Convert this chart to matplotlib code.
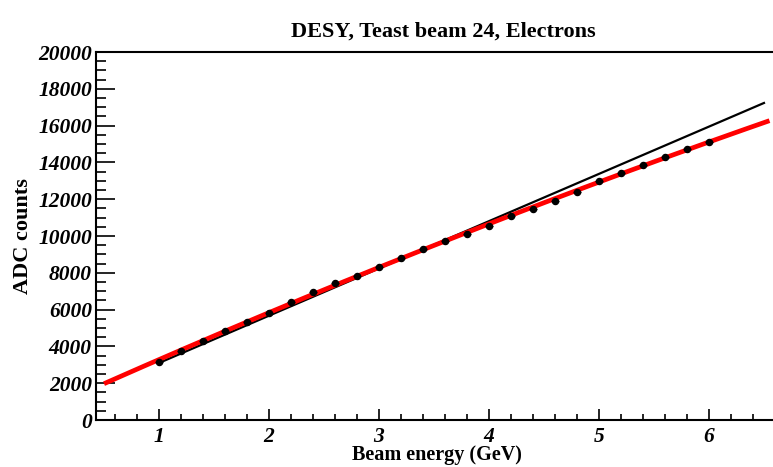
import numpy as np
import matplotlib
matplotlib.use("Agg")
import matplotlib.pyplot as plt
from matplotlib.ticker import MultipleLocator

# Data
energy = [1.0, 1.2, 1.4, 1.6, 1.8, 2.0, 2.2, 2.4, 2.6, 2.8, 3.0, 3.2, 3.4,
          3.6, 3.8, 4.0, 4.2, 4.4, 4.6, 4.8, 5.0, 5.2, 5.4, 5.6, 5.8, 6.0]
adc = [3170, 3770, 4310, 4850, 5340, 5830, 6430, 6940, 7430, 7830, 8300,
       8790, 9280, 9750, 10110, 10540, 11090, 11490, 11920, 12410, 12980,
       13440, 13880, 14280, 14710, 15110]

# Black reference line end points
lin_x = [1.0, 6.5]
lin_y = [3100, 17230]

# Red fit range
fit_range = [0.5, 6.55]

title = "DESY, Teast beam 24, Electrons"
xlabel = "Beam energy (GeV)"
ylabel = "ADC counts"

serif = ["Liberation Serif", "DejaVu Serif"]

fig = plt.figure(figsize=(7.73, 4.67), dpi=100)
ax = fig.add_axes([96/773, 1-420/467, 1-96/773, (420-52)/467])

coef = np.polyfit(energy, adc, 2)
xf = np.linspace(fit_range[0], fit_range[1], 200)
ax.plot(lin_x, lin_y, color="black", lw=1.6, zorder=2)
ax.plot(xf, np.polyval(coef, xf), color="#ff0000", lw=3.4, zorder=3, solid_capstyle="butt")
ax.errorbar(energy, adc, xerr=0.04, fmt="o", color="black", ms=4.4, elinewidth=1.0,
            capsize=0, zorder=4)

ax.set_xlim(0.427, 6.582)
ax.set_ylim(0, 20000)

ax.xaxis.set_major_locator(MultipleLocator(1))
ax.xaxis.set_minor_locator(MultipleLocator(0.2))
ax.yaxis.set_major_locator(MultipleLocator(2000))
ax.yaxis.set_minor_locator(MultipleLocator(500))

ax.tick_params(axis="x", which="major", direction="in", length=8, width=1.2, pad=5)
ax.tick_params(axis="x", which="minor", direction="in", length=4.3, width=1.2)
ax.tick_params(axis="y", which="major", direction="in", length=14, width=1.2, pad=3)
ax.tick_params(axis="y", which="minor", direction="in", length=7, width=1.2)
ax.tick_params(top=False, right=False, which="both")

for lab in ax.get_xticklabels() + ax.get_yticklabels():
    lab.set_fontfamily(serif)
    lab.set_fontweight("bold")
    lab.set_fontstyle("italic")
    lab.set_fontsize(15.5)

for s in ["left", "bottom", "top"]:
    ax.spines[s].set_linewidth(1.5)
ax.spines["right"].set_visible(False)

fig.text(437/773, 1-455/467, xlabel, fontfamily=serif, fontweight="bold", fontsize=14.5,
         ha="center", va="center")
ax.set_ylabel(ylabel, fontfamily=serif, fontweight="bold", fontsize=16, labelpad=4)
fig.text(443/773, 1-32/467, title, fontfamily=serif, fontweight="bold", fontsize=16,
         ha="center", va="center")

fig.savefig("out.png", dpi=100)
